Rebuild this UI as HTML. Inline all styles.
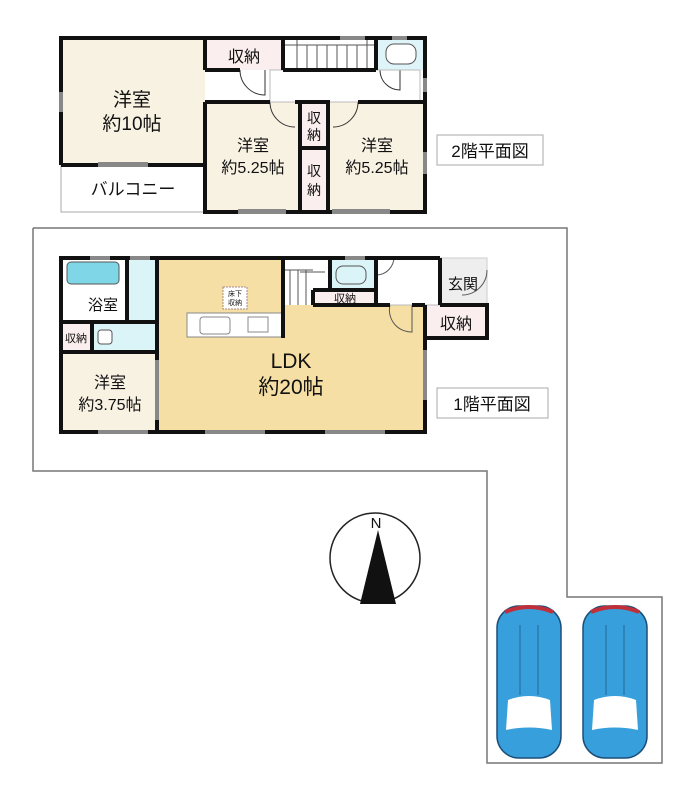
<!DOCTYPE html>
<html><head><meta charset="utf-8"><style>
html,body{margin:0;padding:0;background:#fff}
svg{display:block}
text{font-family:"Liberation Sans","Noto Sans CJK JP",sans-serif;fill:#111}
</style></head><body>
<svg width="693" height="800" viewBox="0 0 693 800" xmlns="http://www.w3.org/2000/svg">
<!-- site boundary -->
<polyline points="33,228 567,228 567,597 662,597 662,763 487,763 487,471 33,471 33,228" fill="none" stroke="#777" stroke-width="1.5"/>

<!-- ===== 2F ===== -->
<rect x="61" y="165" width="144" height="47" fill="#fff" stroke="#aaa" stroke-width="1"/>
<rect x="61" y="38" width="144" height="127" fill="#f8f2e3"/>
<rect x="205" y="38" width="78" height="32" fill="#fbeeee"/>
<rect x="283" y="38" width="93" height="32" fill="#fff"/>
<rect x="376" y="38" width="49" height="32" fill="#dff4f8"/>
<rect x="205" y="102" width="95" height="110" fill="#f8f2e3"/>
<rect x="300" y="102" width="28" height="110" fill="#fbeeee"/>
<rect x="328" y="102" width="97" height="110" fill="#f8f2e3"/>
<!-- stairs -->
<g stroke="#555" stroke-width="1">
<line x1="297" y1="40" x2="297" y2="68"/><line x1="307" y1="45" x2="307" y2="68"/><line x1="317" y1="45" x2="317" y2="68"/><line x1="327" y1="45" x2="327" y2="68"/><line x1="337" y1="45" x2="337" y2="68"/><line x1="347" y1="45" x2="347" y2="68"/><line x1="357" y1="45" x2="357" y2="68"/><line x1="367" y1="40" x2="367" y2="68"/>
<line x1="283" y1="45" x2="376" y2="45"/>
</g>
<!-- door arcs -->
<g fill="none" stroke="#333" stroke-width="1">
<path d="M240,70 A25,25 0 0 0 265,95 L265,70"/>
<path d="M270,102 A25,25 0 0 0 295,127"/>
<path d="M358,102 A25,25 0 0 1 333,127"/>
<path d="M380,70 A20,20 0 0 0 400,90 L400,70"/>
<rect x="270" y="70" width="150" height="32" stroke="#bbb"/>
</g>
<rect x="386" y="44" width="30" height="20" rx="8" fill="#fff" stroke="#555"/>
<!-- walls 2F -->
<g stroke="#111" stroke-width="4" fill="none">
<polyline points="61,165 61,38 425,38 425,212 205,212 205,102"/>
<line x1="61" y1="165" x2="205" y2="165"/>
<line x1="205" y1="38" x2="205" y2="70"/>
<line x1="205" y1="70" x2="240" y2="70"/>
<line x1="283" y1="38" x2="283" y2="70"/>
<line x1="283" y1="70" x2="376" y2="70"/>
<line x1="376" y1="38" x2="376" y2="70"/>
<line x1="205" y1="102" x2="270" y2="102"/>
<line x1="300" y1="102" x2="300" y2="212"/>
<line x1="328" y1="102" x2="328" y2="212"/>
<line x1="300" y1="148" x2="328" y2="148"/>
<line x1="295" y1="102" x2="330" y2="102"/>
<line x1="358" y1="102" x2="425" y2="102"/>
</g>
<g fill="#888"><rect x="98" y="162" width="50" height="5"/><rect x="238" y="209" width="48" height="5"/><rect x="332" y="209" width="58" height="5"/><rect x="59" y="92" width="4" height="20"/><rect x="423" y="152" width="4" height="22"/><rect x="423" y="78" width="4" height="14"/><rect x="340" y="36" width="25" height="4"/><rect x="392" y="36" width="15" height="4"/></g>
<text x="132" y="106" font-size="19" text-anchor="middle">洋室</text>
<text x="132" y="130" font-size="19" text-anchor="middle">約10帖</text>
<text x="244" y="62" font-size="16" text-anchor="middle">収納</text>
<text x="253" y="151" font-size="16" text-anchor="middle">洋室</text>
<text x="253" y="173" font-size="16" text-anchor="middle">約5.25帖</text>
<text x="377" y="151" font-size="16" text-anchor="middle">洋室</text>
<text x="377" y="173" font-size="16" text-anchor="middle">約5.25帖</text>
<text x="314" y="123" font-size="14" text-anchor="middle">収</text>
<text x="314" y="140" font-size="14" text-anchor="middle">納</text>
<text x="314" y="176" font-size="14" text-anchor="middle">収</text>
<text x="314" y="195" font-size="14" text-anchor="middle">納</text>
<text x="133" y="195" font-size="17" text-anchor="middle">バルコニー</text>
<rect x="437" y="135" width="106" height="30" fill="#fff" stroke="#aaa"/>
<text x="490" y="157" font-size="17" text-anchor="middle">2階平面図</text>

<!-- ===== 1F ===== -->
<rect x="440" y="258" width="47" height="47" fill="#eee" stroke="#ccc"/>
<polygon points="157,258 283,258 283,305 425,305 425,432 157,432" fill="#f5dfa4"/>
<rect x="61" y="258" width="66" height="64" fill="#fff"/>
<rect x="67" y="262" width="52" height="22" rx="4" fill="#7fd6e6" stroke="#555"/>
<rect x="127" y="258" width="30" height="94" fill="#dbf4f8"/>
<rect x="92" y="322" width="35" height="30" fill="#dbf4f8"/>
<rect x="61" y="322" width="31" height="30" fill="#fbeeee"/>
<rect x="61" y="352" width="96" height="80" fill="#f8f2e3"/>
<rect x="330" y="258" width="46" height="32" fill="#dbf4f8"/>
<rect x="313" y="290" width="63" height="15" fill="#fbeeee"/>
<rect x="425" y="305" width="62" height="33" fill="#fbeeee"/>
<rect x="187" y="313" width="96" height="24" fill="#fff" stroke="#888"/>
<rect x="200" y="317" width="30" height="17" rx="3" fill="#fff" stroke="#888"/>
<rect x="248" y="317" width="20" height="15" fill="#fff" stroke="#888"/>
<rect x="223" y="287" width="24" height="22" fill="#fff" stroke="#a88" stroke-dasharray="2,1"/>
<text x="235" y="296" font-size="7" text-anchor="middle">床下</text>
<text x="235" y="305" font-size="7" text-anchor="middle">収納</text>
<rect x="98" y="330" width="14" height="14" rx="3" fill="#fff" stroke="#555"/>
<g stroke="#555" stroke-width="1" fill="none">
<line x1="283" y1="270" x2="313" y2="270"/><line x1="290" y1="270" x2="290" y2="305"/><line x1="298" y1="270" x2="298" y2="305"/><line x1="306" y1="270" x2="306" y2="305"/>
<line x1="300" y1="272" x2="325" y2="272"/>
<rect x="336" y="266" width="30" height="18" rx="7"/>
<path d="M376,275 A18,18 0 0 0 394,257"/>
<path d="M390,305 A22,22 0 0 0 412,332 L412,305"/>
<path d="M487,270 A25,25 0 0 1 462,295"/>
<rect x="376" y="258" width="64" height="47" stroke="#bbb"/>
</g>
<g stroke="#111" stroke-width="4" fill="none">
<polyline points="283,258 61,258 61,432 425,432 425,338 487,338 487,305 440,305"/>
<line x1="283" y1="258" x2="440" y2="258"/>
<line x1="440" y1="258" x2="440" y2="305"/>
<line x1="127" y1="258" x2="127" y2="322"/>
<line x1="61" y1="322" x2="157" y2="322"/>
<line x1="92" y1="322" x2="92" y2="352"/>
<line x1="61" y1="352" x2="157" y2="352"/>
<line x1="157" y1="258" x2="157" y2="432"/>
<line x1="283" y1="258" x2="283" y2="338"/>
<line x1="313" y1="290" x2="313" y2="305"/>
<line x1="313" y1="290" x2="376" y2="290"/>
<line x1="330" y1="258" x2="330" y2="290"/>
<line x1="376" y1="258" x2="376" y2="305"/>
<line x1="313" y1="305" x2="390" y2="305"/>
<line x1="412" y1="305" x2="425" y2="305"/>
<line x1="425" y1="305" x2="425" y2="338"/>
</g>
<g fill="#888"><rect x="98" y="430" width="50" height="4"/><rect x="205" y="430" width="60" height="4"/><rect x="325" y="430" width="60" height="4"/><rect x="155" y="360" width="4" height="60"/><rect x="423" y="350" width="4" height="50"/><rect x="90" y="256" width="20" height="4"/><rect x="130" y="256" width="20" height="4"/><rect x="345" y="256" width="20" height="4"/></g>
<text x="103" y="310" font-size="15" text-anchor="middle">浴室</text>
<text x="76" y="342" font-size="11" text-anchor="middle">収納</text>
<text x="110" y="388" font-size="16" text-anchor="middle">洋室</text>
<text x="110" y="410" font-size="16" text-anchor="middle">約3.75帖</text>
<text x="291" y="368" font-size="21" text-anchor="middle">LDK</text>
<text x="291" y="394" font-size="21" text-anchor="middle">約20帖</text>
<text x="345" y="302" font-size="11" text-anchor="middle">収納</text>
<text x="463" y="289" font-size="15" text-anchor="middle">玄関</text>
<text x="456" y="329" font-size="16" text-anchor="middle">収納</text>
<rect x="437" y="388" width="111" height="30" fill="#fff" stroke="#aaa"/>
<text x="492" y="410" font-size="17" text-anchor="middle">1階平面図</text>

<!-- compass -->
<circle cx="375" cy="558" r="45" fill="#fff" stroke="#222" stroke-width="1.5"/>
<polygon points="378,530 360,604 396,604" fill="#111"/>
<text x="376" y="528" font-size="15" font-family="Liberation Serif" text-anchor="middle">N</text>

<!-- cars -->
<g id="car">
<rect x="497" y="606" width="64" height="152" rx="22" fill="#37a0dc" stroke="#1d4e78" stroke-width="1.5"/>
<path d="M505,612 Q529,602 553,612" stroke="#c0303a" stroke-width="4" fill="none"/>
<path d="M508,700 Q529,692 550,700 L552,730 Q529,725 506,730 Z" fill="#fff"/>
<line x1="520" y1="625" x2="520" y2="695" stroke="#1d4e78" stroke-width="0.7"/>
<line x1="538" y1="625" x2="538" y2="695" stroke="#1d4e78" stroke-width="0.7"/>
</g>
<use href="#car" x="86"/>
</svg>
</body></html>
